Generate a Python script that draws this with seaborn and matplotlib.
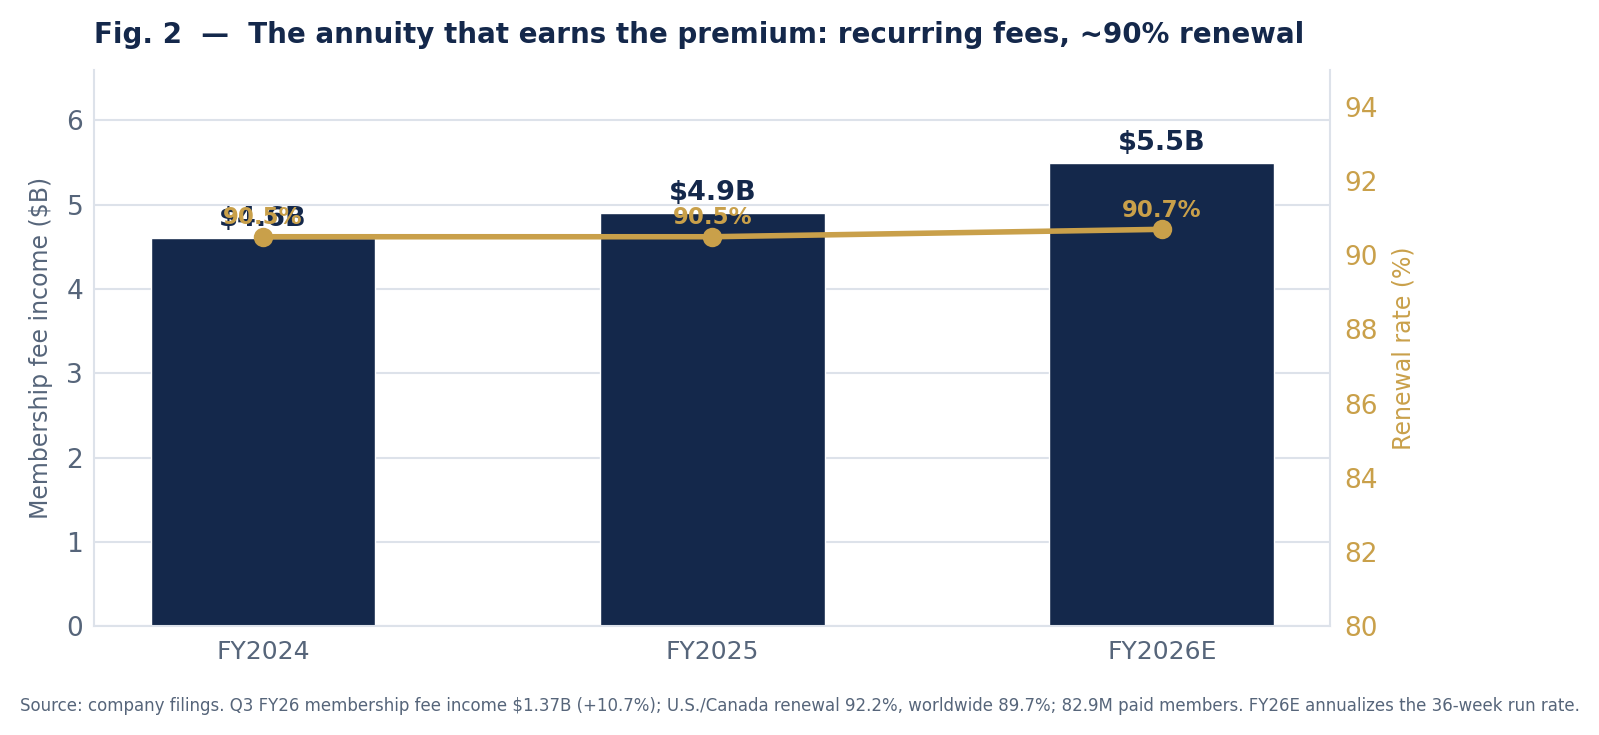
import numpy as np
import pandas as pd
import seaborn as sns
import matplotlib.pyplot as plt

# Data
years = ['FY2024', 'FY2025', 'FY2026E']
fee_income = [4.6, 4.9, 5.5]          # $B
renewal = [90.5, 90.5, 90.7]          # %

navy = '#14284b'
gold = '#c9a04a'
slate = '#56657a'
grid = '#dde2ea'

sns.set_theme(style='white')
plt.rcParams['font.family'] = ['DejaVu Sans']

df = pd.DataFrame({'year': years, 'fee': fee_income, 'renewal': renewal})

fig = plt.figure(figsize=(15.99, 7.35), dpi=100)
ax = fig.add_axes([0.059, 0.148, 0.773, 0.757])

sns.barplot(data=df, x='year', y='fee', color=navy, width=0.5, saturation=1, ax=ax, zorder=2)
ax.set_xlim(-0.375, 2.375)
ax.set_ylim(0, 6.6)
ax.set_yticks(range(0, 7))
ax.yaxis.grid(True, color=grid, linewidth=1.5, zorder=0)
ax.set_axisbelow(True)
ax.set_xlabel('')
ax.set_ylabel('Membership fee income ($B)', fontsize=17, color=slate, labelpad=10)
ax.tick_params(axis='x', labelsize=18, colors=slate, length=0, pad=10)
ax.tick_params(axis='y', labelsize=19, colors=slate, length=0, pad=8)
for s in ['left', 'bottom']:
    ax.spines[s].set_color(grid)
    ax.spines[s].set_linewidth(1.5)
ax.spines['top'].set_visible(False)
ax.spines['right'].set_visible(False)

for i, v in enumerate(fee_income):
    ax.text(i, v + 0.08, f'${v:.1f}B', ha='center', va='bottom',
            fontsize=19.5, fontweight='bold', color=navy)

ax2 = ax.twinx()
sns.lineplot(data=df, x='year', y='renewal', color=gold, linewidth=4,
             marker='o', markersize=14, markeredgewidth=0, ax=ax2, zorder=3)
ax2.set_ylim(80, 95)
ax2.set_yticks(range(80, 96, 2))
ax2.set_ylabel('Renewal rate (%)', fontsize=17, color=gold, labelpad=10)
ax2.tick_params(axis='y', labelsize=19, colors=gold, length=0, pad=10)
for s in ['left', 'bottom', 'top']:
    ax2.spines[s].set_visible(False)
ax2.spines['right'].set_color(grid)
ax2.spines['right'].set_linewidth(1.5)

for i, v in enumerate(renewal):
    ax2.text(i, v + 0.2, f'{v:.1f}%', ha='center', va='bottom',
             fontsize=16.5, fontweight='bold', color=gold)

fig.text(0.059, 0.953, 'Fig. 2  \u2014  The annuity that earns the premium: recurring fees, ~90% renewal',
         fontsize=20, fontweight='bold', color=navy, ha='left', va='center')
fig.text(0.5, 0.04, 'Source: company filings. Q3 FY26 membership fee income $1.37B (+10.7%); '
         'U.S./Canada renewal 92.2%, worldwide 89.7%; 82.9M paid members. '
         'FY26E annualizes the 36-week run rate.',
         fontsize=12, color=slate, ha='center', va='center')

fig.savefig('out.png', dpi=100)
